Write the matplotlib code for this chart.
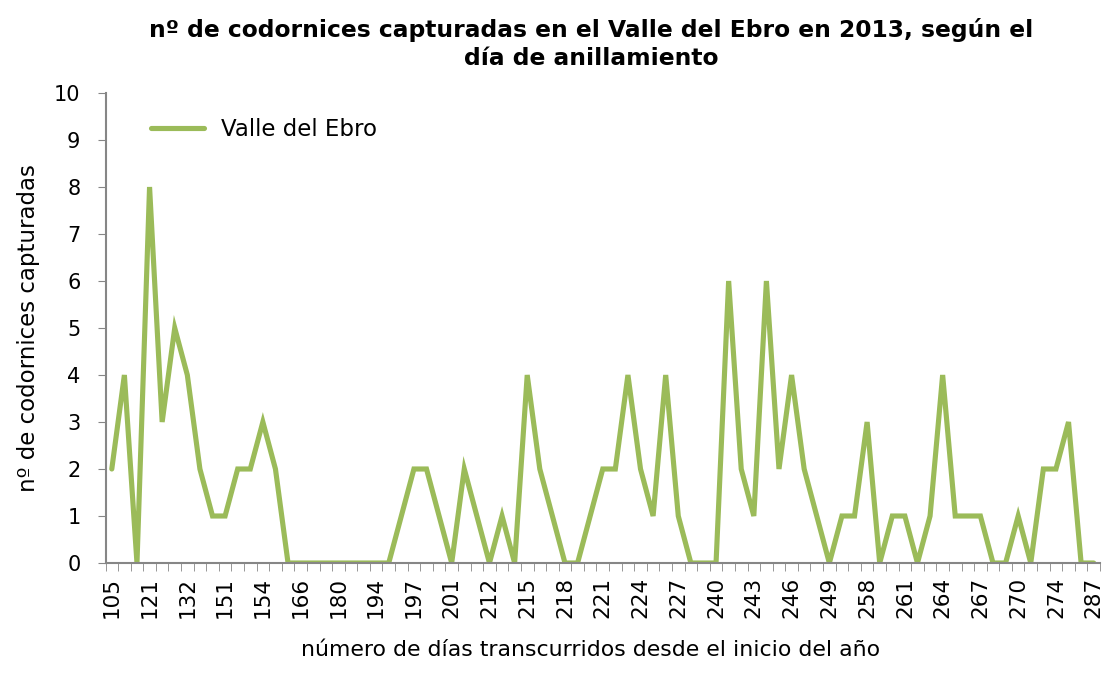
import numpy as np
import matplotlib
matplotlib.use("Agg")
import matplotlib.pyplot as plt

# capturas por dia (una categoria por dia de anillamiento)
capturas = [
    2, 4, 0, 8, 3, 5, 4, 2, 1, 1,
    2, 2, 3, 2, 0, 0, 0, 0, 0, 0,
    0, 0, 0, 1, 2, 2, 1, 0, 2, 1,
    0, 1, 0, 4, 2, 1, 0, 0, 1, 2,
    2, 4, 2, 1, 4, 1, 0, 0, 0, 6,
    2, 1, 6, 2, 4, 2, 1, 0, 1, 1,
    3, 0, 1, 1, 0, 1, 4, 1, 1, 1,
    0, 0, 1, 0, 2, 2, 3, 0, 0,
]
# etiquetas visibles (una de cada tres categorias)
dias_etiqueta = [
    "105", "121", "132", "151", "154", "166", "180", "194", "197",
    "201", "212", "215", "218", "221", "224", "227", "240", "243",
    "246", "249", "258", "261", "264", "267", "270", "274", "287",
]
serie = "Valle del Ebro"

COLOR = "#9BBB59"
GRIS = "#868686"

fig = plt.figure(figsize=(11.02, 6.83), dpi=100)
ax = fig.add_axes([105.5 / 1102, 1 - 563 / 683, (1100 - 105.5) / 1102, 470 / 683])

x = np.arange(len(capturas))
line, = ax.plot(x, capturas, color=COLOR, linewidth=3.7, solid_joinstyle="miter",
                solid_capstyle="round", label=serie)

ax.set_xlim(-0.5, len(capturas) - 0.5)
ax.set_ylim(0, 10)
ax.set_yticks(range(0, 11))
ax.tick_params(axis="y", direction="out", length=6, color=GRIS, labelsize=15, pad=12)

ax.set_xticks(np.arange(0, len(capturas), 3))
ax.set_xticklabels(dias_etiqueta, rotation=90, fontsize=15.5)
ax.set_xticks(np.arange(-0.5, len(capturas), 1), minor=True)
ax.tick_params(axis="x", which="major", length=0, pad=10)
ax.tick_params(axis="x", which="minor", direction="out", length=6, color=GRIS)

for side in ["top", "right"]:
    ax.spines[side].set_visible(False)
for side in ["left", "bottom"]:
    ax.spines[side].set_color(GRIS)
    ax.spines[side].set_linewidth(1.5)

ax.set_ylabel("nº de codornices capturadas", fontsize=16.5, labelpad=10)
fig.text(591 / 1102, 1 - 650 / 683, "número de días transcurridos desde el inicio del año",
         fontsize=15.8, ha="center", va="center")
fig.text(591 / 1102, 1 - 44 / 683,
         "nº de codornices capturadas en el Valle del Ebro en 2013, según el\ndía de anillamiento",
         fontsize=16.8, fontweight="bold", ha="center", va="center", linespacing=1.32)

ax.legend(handles=[line], loc="upper left", bbox_to_anchor=(0.025, 0.99), frameon=False,
          fontsize=16.5, handlelength=2.3, handletextpad=0.75)

fig.savefig("out.png", dpi=100)
